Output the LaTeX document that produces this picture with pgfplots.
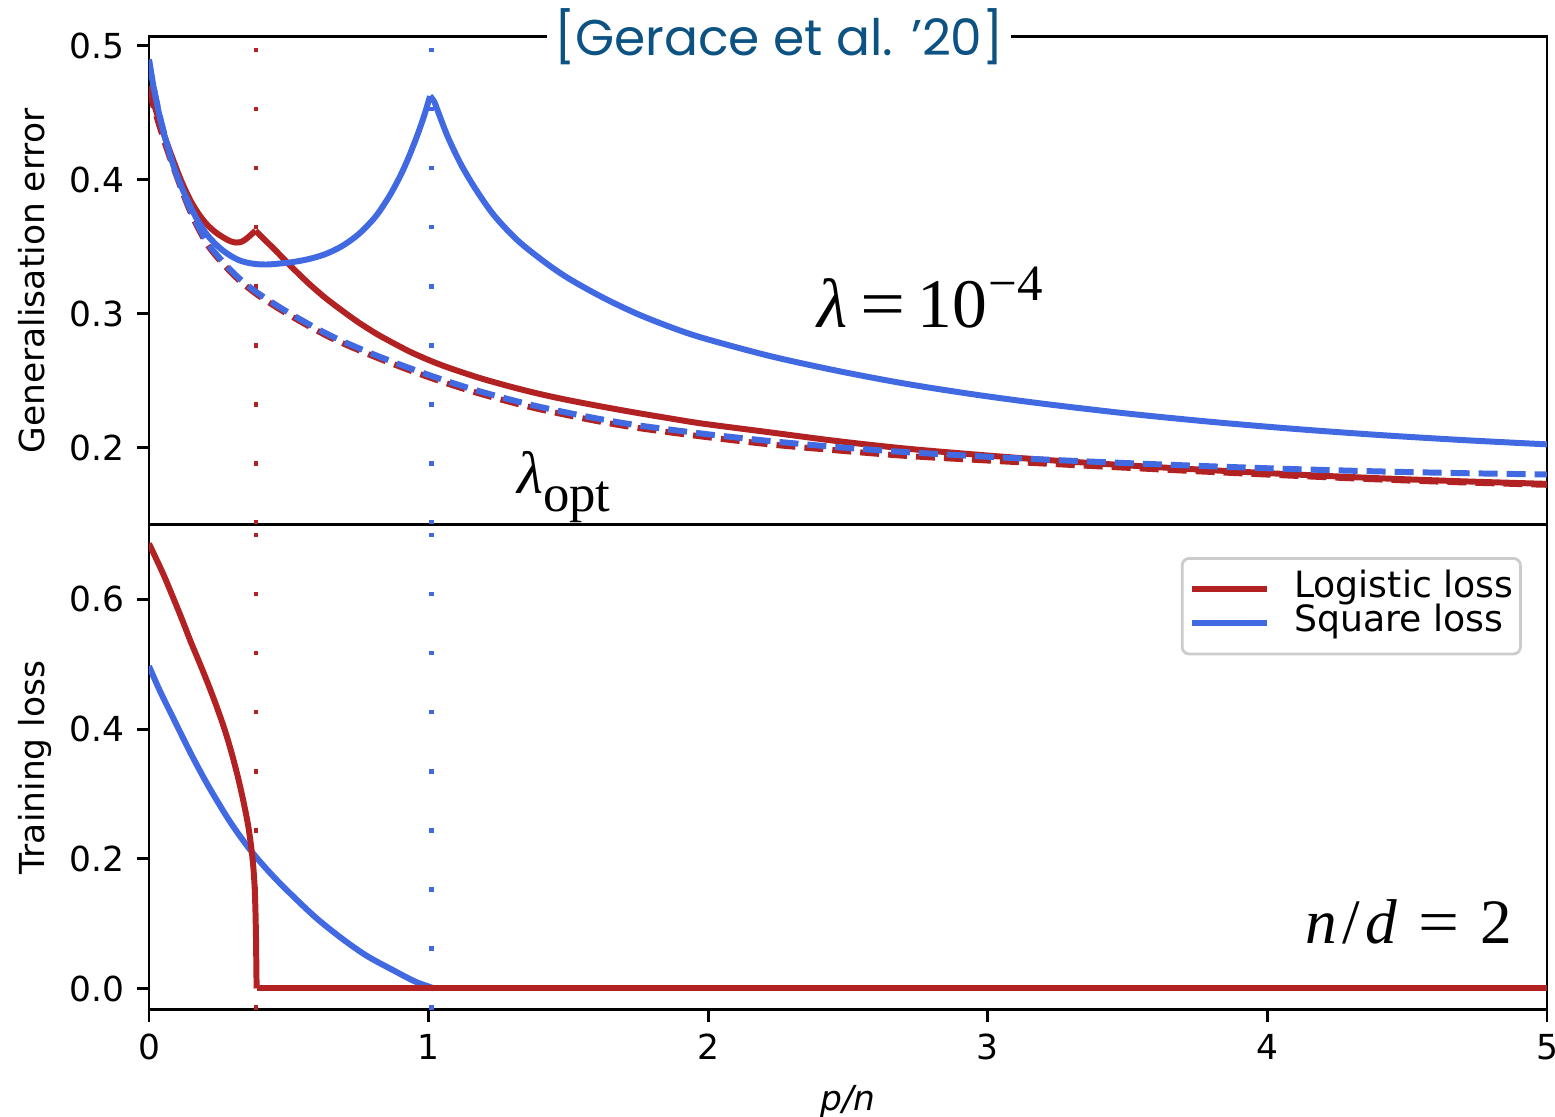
\documentclass[border=0pt]{standalone}
\usepackage{fontspec}
\setmainfont{DejaVu Sans}
\newfontfamily\tnr{Liberation Serif}
\newfontfamily\titlefont{Poppins}
\usepackage{pgfplots}
\pgfplotsset{compat=1.18}
\definecolor{lred}{RGB}{178,34,34}
\definecolor{lblue}{RGB}{65,105,225}
\definecolor{ttl}{RGB}{12,82,130}

\begin{document}
\begin{tikzpicture}[x=1cm,y=1cm]
\useasboundingbox (-1.49,-1.07) rectangle (14.06,10.10);
\pgfplotsset{
  every axis/.append style={
    scale only axis, width=13.98cm, xmin=0, xmax=5,
    axis line style={line width=0.85pt},
    every tick/.style={black, line width=0.85pt},
    major tick length=0.12cm,
    tick align=outside,
    tick label style={font=\fontsize{9.8}{11}\selectfont},
    label style={font=\fontsize{9.8}{11}\selectfont},
    /pgf/number format/assume math mode=true,
    ytick pos=left,
    clip mode=individual,
    yticklabel style={/pgf/number format/.cd,fixed,fixed zerofill,precision=1},
  },
  every axis plot/.append style={line width=1.7pt, line join=round},
  dotln/.style={line width=1.3pt, dash pattern=on 0.045cm off 0.546cm, forget plot},
  dashln/.style={dash pattern=on 0.19cm off 0.09cm},
}
% ---------------- top axis ----------------
\begin{axis}[at={(0,4.85cm)}, anchor=south west, height=4.88cm,
  ymin=0.1423, ymax=0.5067, xtick=\empty, ytick={0.2,0.3,0.4,0.5},
  ylabel={Generalisation error},
  ylabel style={at={(axis description cs:-0.0744,0.5)}, anchor=base},
  after end axis/.code={
    \node[fill=white, inner xsep=2pt, inner ysep=1pt, text=ttl,
      font=\titlefont\fontsize{14.3}{17}\selectfont] at (rel axis cs:0.4506,1) {[Gerace et al. ’20]};
  }]
\addplot[lred, dotln] coordinates {(0.382,0.1423) (0.382,0.5067)};
\addplot[lblue, dotln] coordinates {(1.01,0.1423) (1.01,0.5067)};
% logistic, lambda opt
\addplot[lred, dashln, smooth] coordinates {
(0,0.468) (0.01,0.4595) (0.02,0.452) (0.04,0.4385) (0.06,0.4255) (0.087,0.4095)
(0.146,0.377) (0.206,0.3525) (0.266,0.337) (0.32,0.3255) (0.379,0.3155) (0.44,0.307)
(0.504,0.2988) (0.6,0.2875) (0.683,0.2789) (0.8,0.2685) (0.922,0.2586) (1.04,0.2498)
(1.16,0.2418) (1.28,0.2348) (1.398,0.2287) (1.58,0.2208) (1.74,0.2150) (1.98,0.2083)
(2.22,0.2025) (2.46,0.1980) (2.70,0.1940) (2.95,0.1910) (3.2,0.1882) (3.5,0.1850)
(3.8,0.1819) (4.1,0.1790) (4.4,0.1763) (4.7,0.1741) (5.0,0.1723)};
% logistic, lambda 1e-4
\addplot[lred, smooth] coordinates {
(0,0.470) (0.02,0.455) (0.04,0.4425) (0.06,0.430) (0.087,0.4145) (0.115,0.3995)
(0.146,0.3855) (0.176,0.375) (0.206,0.367) (0.236,0.3612) (0.266,0.357) (0.29,0.3543)
(0.31,0.3532) (0.325,0.3534) (0.34,0.3548) (0.355,0.3572) (0.37,0.360) (0.381,0.362)};
\addplot[lred, smooth] coordinates {
(0.381,0.362) (0.42,0.354) (0.454,0.347) (0.51,0.335) (0.572,0.3225) (0.63,0.312)
(0.693,0.302) (0.75,0.2935) (0.814,0.285) (0.875,0.278) (0.935,0.2715) (1.0,0.2655)
(1.055,0.261) (1.12,0.2563) (1.2,0.2510) (1.3,0.2452) (1.4,0.2400) (1.5,0.2355)
(1.62,0.2307) (1.74,0.2262) (1.86,0.2220) (1.98,0.2180) (2.22,0.2115) (2.46,0.2050)
(2.70,0.1995) (2.95,0.1950) (3.2,0.1910) (3.5,0.1868) (3.8,0.1832) (4.1,0.1800)
(4.4,0.1772) (4.7,0.1749) (5.0,0.1730)};
% square, lambda opt
\addplot[lblue, dashln, smooth] coordinates {
(0,0.489) (0.01,0.4765) (0.02,0.4655) (0.04,0.4465) (0.06,0.4305) (0.087,0.411)
(0.146,0.3785) (0.206,0.354) (0.266,0.3385) (0.32,0.327) (0.379,0.317) (0.44,0.3085)
(0.504,0.3003) (0.6,0.289) (0.683,0.2804) (0.8,0.270) (0.922,0.2602) (1.04,0.2515)
(1.16,0.2435) (1.28,0.2366) (1.398,0.2305) (1.58,0.2227) (1.74,0.2170) (1.98,0.2105)
(2.22,0.2050) (2.46,0.2005) (2.70,0.1968) (2.95,0.1938) (3.2,0.1912) (3.5,0.1885)
(3.8,0.1861) (4.1,0.1840) (4.4,0.1823) (4.7,0.1810) (5.0,0.1800)};
% square, lambda 1e-4
\addplot[lblue, smooth] coordinates {
(0,0.490) (0.01,0.477) (0.02,0.4655) (0.04,0.4455) (0.06,0.4295) (0.087,0.411)
(0.115,0.3955) (0.146,0.381) (0.176,0.369) (0.206,0.3595) (0.236,0.3525) (0.266,0.347)
(0.296,0.3428) (0.326,0.3397) (0.36,0.3378) (0.39,0.337) (0.42,0.3368) (0.45,0.3372)
(0.51,0.3385) (0.57,0.3408) (0.63,0.3445) (0.69,0.3505) (0.75,0.3595) (0.81,0.3725)
(0.86,0.388) (0.90,0.4035) (0.93,0.4175) (0.96,0.4335) (0.985,0.4485) (1.005,0.4625)};
\addplot[lblue, smooth] coordinates {
(1.005,0.4625) (1.02,0.4585) (1.04,0.4475) (1.07,0.4315) (1.116,0.4115) (1.17,0.3925)
(1.236,0.373) (1.32,0.3545) (1.416,0.3385) (1.5,0.3265) (1.62,0.3125) (1.74,0.3005)
(1.86,0.2905) (1.98,0.282) (2.22,0.2685) (2.46,0.2575) (2.70,0.248) (2.95,0.2398)
(3.2,0.2328) (3.5,0.2255) (3.8,0.2193) (4.1,0.214) (4.4,0.2095) (4.7,0.2057) (5.0,0.2025)};
\node[anchor=base west, inner sep=0pt] at (axis cs:2.389,0.290)
  {\tnr\fontsize{19.8}{24}\selectfont\textit{λ}\kern3.5pt\scalebox{1.15}[1]{=}\kern3.5pt10\kern0.5pt\raisebox{7.7pt}{\fontsize{14.5}{16}\selectfont −4}};
\node[anchor=base west, inner sep=0pt] at (axis cs:1.315,0.166)
  {\tnr\fontsize{17}{20}\selectfont\textit{λ}\raisebox{-5.2pt}{\fontsize{15}{17}\selectfont opt}};
\end{axis}
% ---------------- bottom axis ----------------
\begin{axis}[at={(0,0)}, anchor=south west, height=4.85cm,
  ymin=-0.0332, ymax=0.7147, xtick={0,1,2,3,4,5}, xtick pos=bottom,
  xticklabel style={/pgf/number format/.cd,fixed,precision=0},
  ytick={0,0.2,0.4,0.6},
  ylabel={Training loss},
  ylabel style={at={(axis description cs:-0.0744,0.5)}, anchor=base},
  xlabel={\itshape p/n},
  xlabel style={at={(axis description cs:0.5,-0.208)}, anchor=base},
  reverse legend, legend cell align=left,
  legend image code/.code={\draw[#1] (0cm,0cm) -- (0.75cm,0cm);},
  legend style={at={(0.982,0.934)}, anchor=north east, draw=black!20,
    rounded corners=2pt, line width=0.8pt, fill=white, inner xsep=2pt, inner ysep=4pt,
    font=\fontsize{10.3}{10.3}\selectfont,
    nodes={inner sep=0pt, text height=0.72em, text depth=0.24em},
    /tikz/every odd column/.append style={column sep=0.24cm}},
  ]
\addplot[lred, dotln] coordinates {(0.382,-0.0332) (0.382,0.7147)};
\addplot[lblue, dotln] coordinates {(1.01,-0.0332) (1.01,0.7147)};
\addplot[lblue, smooth] coordinates {
(0,0.497) (0.04,0.458) (0.089,0.415) (0.15,0.362) (0.21,0.314) (0.29,0.257)
(0.367,0.211) (0.44,0.175) (0.511,0.144) (0.60,0.108) (0.693,0.076) (0.78,0.050)
(0.874,0.028) (0.95,0.011) (1.0,0.003) (1.02,0.0)};
\addlegendentry{Square loss}
\addplot[lblue, forget plot] coordinates {(1.02,0.0) (5.0,0.0)};
\addplot[lred, smooth] coordinates {
(0,0.686) (0.05,0.640) (0.089,0.600) (0.12,0.567) (0.149,0.535) (0.18,0.503)
(0.21,0.471) (0.24,0.437) (0.27,0.400) (0.295,0.364) (0.318,0.326) (0.337,0.290)
(0.354,0.253) (0.365,0.220) (0.373,0.188) (0.378,0.155) (0.381,0.115) (0.383,0.070)
(0.384,0.030) (0.385,0.0)};
\addlegendentry{Logistic loss}
\addplot[lred, forget plot] coordinates {(0.385,0.0) (5.0,0.0)};
\node[anchor=base west, inner sep=0pt] at (axis cs:4.134,0.0697)
  {\tnr\fontsize{18}{21}\selectfont\textit{n}\kern1.5pt/\kern1.5pt\textit{d}\kern6pt\scalebox{1.15}[1]{=}\kern6pt2};
\end{axis}
\end{tikzpicture}
\end{document}
